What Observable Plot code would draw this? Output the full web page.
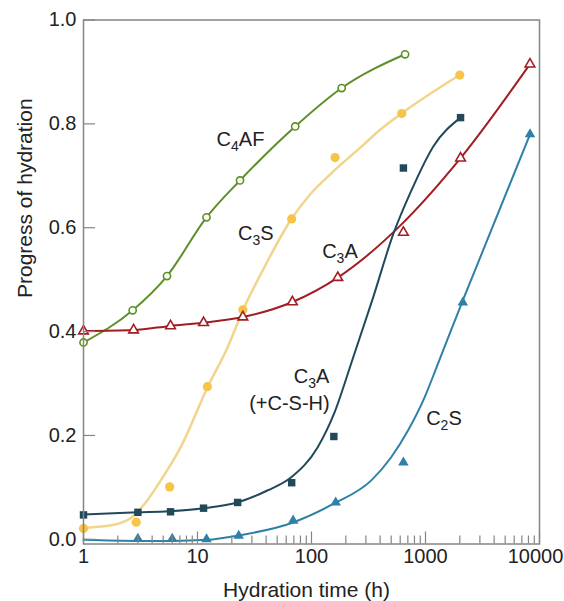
<!DOCTYPE html>
<html>
<head>
<meta charset="utf-8">
<script src="https://cdn.jsdelivr.net/npm/d3@7"></script>
<script src="https://cdn.jsdelivr.net/npm/@observablehq/plot@0.6"></script>
<style>
  html, body { margin: 0; padding: 0; background: #fff; }
  #chart svg { display: block; overflow: visible; }
</style>
</head>
<body>
<div id="chart"></div>
<script>
// ---- axis ticks ----
const xTicks = [1, 10, 100, 1000];
const xLastTick = [10000];
const xMinorTicks = [2,3,4,5,6,7,8,9,20,30,40,50,60,70,80,90,200,300,400,500,600,700,800,900,2000,3000,4000,5000,6000,7000,8000,9000];
const yTicks = [0, 0.2, 0.4, 0.6, 0.8, 1.0];

// ---- C4AF (open green circles, line through points) ----
const c4afT = [1, 2.7, 5.4, 12, 23.6, 72, 184, 662];
const c4afY = [0.379, 0.441, 0.507, 0.620, 0.691, 0.795, 0.869, 0.934];

// ---- C3S (yellow dots + fitted line) ----
const c3sT = [1, 2.9, 5.7, 12.2, 25, 67, 161, 620, 2000];
const c3sY = [0.021, 0.033, 0.101, 0.294, 0.442, 0.617, 0.735, 0.820, 0.894];
const c3sLineT = [1, 1.85, 2.6, 3.4, 4.75, 7.1, 12.2, 18.3, 25.6, 38.4, 65.8, 98, 148, 290, 407, 616, 1990];
const c3sLineY = [0.022, 0.028, 0.041, 0.067, 0.113, 0.177, 0.292, 0.369, 0.446, 0.523, 0.615, 0.665, 0.704, 0.761, 0.790, 0.820, 0.894];

// ---- C3A (open red triangles + line) ----
const c3aT = [1, 2.75, 5.8, 11.3, 25, 68, 170, 640, 2030, 8250];
const c3aY = [0.401, 0.403, 0.411, 0.417, 0.428, 0.457, 0.504, 0.591, 0.734, 0.915];
const c3aLineT = [1, 2.75, 5.8, 11.3, 25, 68, 170, 600, 2030, 8250];
const c3aLineY = [0.401, 0.403, 0.411, 0.417, 0.428, 0.457, 0.504, 0.604, 0.734, 0.915];

// ---- C3A (+C-S-H) (dark squares + fitted line) ----
const c3acshT = [1, 3, 5.8, 11.3, 22.5, 67, 157, 640, 2030];
const c3acshY = [0.047, 0.052, 0.053, 0.060, 0.071, 0.109, 0.198, 0.715, 0.812];
const c3acshLineT = [1, 3, 5.6, 11.3, 22.4, 41, 66, 113, 159, 224, 343, 524, 739, 1175, 2030];
const c3acshLineY = [0.048, 0.052, 0.054, 0.060, 0.071, 0.094, 0.119, 0.177, 0.244, 0.340, 0.462, 0.589, 0.668, 0.757, 0.812];

// ---- C2S (blue filled triangles + fitted line) ----
const c2sT = [3, 6, 12, 23, 69, 163, 640, 2125, 8260];
const c2sY = [0.001, 0.001, 0.000, 0.007, 0.036, 0.071, 0.148, 0.456, 0.780];
const c2sLineT = [1, 3, 6, 12, 22.4, 70, 158, 333, 500, 700, 980, 1280, 1670, 2125, 8260];
const c2sLineY = [-0.001, -0.003, -0.003, -0.001, 0.007, 0.033, 0.069, 0.113, 0.158, 0.209, 0.273, 0.337, 0.402, 0.460, 0.780];

// ---- series labels ----
const labelText = ["C4AF", "C3S", "C3A", "C3A", "(+C-S-H)", "C2S"];
const labelT = [14.7, 22.7, 124, 69.9, 28.4, 1013];
const labelY = [0.769, 0.589, 0.554, 0.314, 0.261, 0.232];

const xTitle = "Hydration time (h)";
const yTitle = "Progress of hydration";

// ---- build tables ----
const zip = (t, y) => t.map((d, i) => ({t: d, v: y[i]}));
const labels = labelText.map((s, i) => ({t: labelT[i], v: labelY[i], label: s}));

const W = 564, H = 601;
const mL = 83, mR = 25, mT = 19.5, mB = 57.5;
const frameW = W - mL - mR, frameH = H - mT - mB;

const green = "#5e8e2a", yellowLine = "#f1d58c", yellowDot = "#f6c548",
      red = "#a11d22", dark = "#21495a", blue = "#2f80a6", axisGray = "#858585";

const chart = Plot.plot({
  width: W, height: H,
  marginLeft: mL, marginRight: mR, marginTop: mT, marginBottom: mB,
  style: {fontFamily: "'Liberation Sans', Arial, Helvetica, sans-serif", background: "#fff", color: "#222", overflow: "visible"},
  x: {type: "log", domain: [1, 10000]},
  y: {domain: [-0.009, 1.0]},
  marks: [
    // lines
    Plot.line(zip(c4afT, c4afY), {x: "t", y: "v", stroke: green, strokeWidth: 2, curve: "monotone-x"}),
    Plot.line(zip(c3sLineT, c3sLineY), {x: "t", y: "v", stroke: yellowLine, strokeWidth: 2.5, curve: "monotone-x"}),
    Plot.line(zip(c3aLineT, c3aLineY), {x: "t", y: "v", stroke: red, strokeWidth: 2, curve: "monotone-x"}),
    Plot.line(zip(c3acshLineT, c3acshLineY), {x: "t", y: "v", stroke: dark, strokeWidth: 2, curve: "monotone-x"}),
    Plot.line(zip(c2sLineT, c2sLineY), {x: "t", y: "v", stroke: blue, strokeWidth: 2, curve: "monotone-x"}),
    // markers
    Plot.dot(zip(c4afT, c4afY), {x: "t", y: "v", r: 3.6, fill: "#fbfff4", stroke: green, strokeWidth: 1.6}),
    Plot.dot(zip(c3sT, c3sY), {x: "t", y: "v", r: 4.6, fill: yellowDot, stroke: "none"}),
    Plot.dot(zip(c3aT, c3aY), {x: "t", y: "v", r: 3.6, symbol: "triangle", fill: "#fff", stroke: red, strokeWidth: 1.6}),
    Plot.dot(zip(c3acshT, c3acshY), {x: "t", y: "v", r: 4.2, symbol: "square", fill: dark, stroke: "none"}),
    Plot.dot(zip(c2sT, c2sY), {x: "t", y: "v", r: 3.9, symbol: "triangle", fill: blue, stroke: "none"}),
    // frame and inward ticks
    Plot.frame({stroke: axisGray, strokeWidth: 1.5}),
    Plot.tickX(xMinorTicks, {x: d => d, stroke: axisGray, strokeWidth: 1.2, insetTop: frameH - 8}),
    Plot.tickX(xTicks.concat(xLastTick), {x: d => d, stroke: axisGray, strokeWidth: 1.2, insetTop: frameH - 12}),
    Plot.tickY(yTicks, {y: d => d, stroke: axisGray, strokeWidth: 1.2, insetRight: frameW - 12}),
    // tick labels
    Plot.axisX({ticks: xTicks, tickSize: 0, tickPadding: 5, tickFormat: d => String(d), fontSize: 20, label: null}),
    Plot.axisX({ticks: xLastTick, tickSize: 0, tickPadding: 5, tickFormat: d => String(d), fontSize: 20, label: null, dx: -4}),
    Plot.axisY({ticks: yTicks, tickSize: 0, tickPadding: 7, tickFormat: d3.format(".1f"), fontSize: 20, label: null}),
    // axis titles
    Plot.text([xTitle], {frameAnchor: "bottom", text: d => d, fontSize: 21, lineAnchor: "middle", dy: 46, dx: -5, fill: "#222"}),
    Plot.text([yTitle], {frameAnchor: "left", text: d => d, fontSize: 21, lineAnchor: "middle", rotate: -90, dx: -58, dy: 16, fill: "#222"}),
    // series labels
    Plot.text(labels, {x: "t", y: "v", text: "label", textAnchor: "start", lineAnchor: "middle", fontSize: 20, fill: "#222"})
  ]
});

document.getElementById("chart").appendChild(chart);

// render subscripts (C4AF -> C with subscript 4, then AF)
const ns = "http://www.w3.org/2000/svg";
chart.querySelectorAll("text").forEach(el => {
  if (el.children.length > 0) return;
  const s = el.textContent;
  if (!labelText.includes(s)) return;
  const m = s.match(/^(C)(\d)(.*)$/);
  if (!m) return;
  el.textContent = "";
  el.appendChild(document.createTextNode(m[1]));
  const sub = document.createElementNS(ns, "tspan");
  sub.setAttribute("dy", "5");
  sub.setAttribute("font-size", "14");
  sub.textContent = m[2];
  el.appendChild(sub);
  const rest = document.createElementNS(ns, "tspan");
  rest.setAttribute("dy", "-5");
  rest.textContent = m[3];
  el.appendChild(rest);
});
</script>
</body>
</html>
